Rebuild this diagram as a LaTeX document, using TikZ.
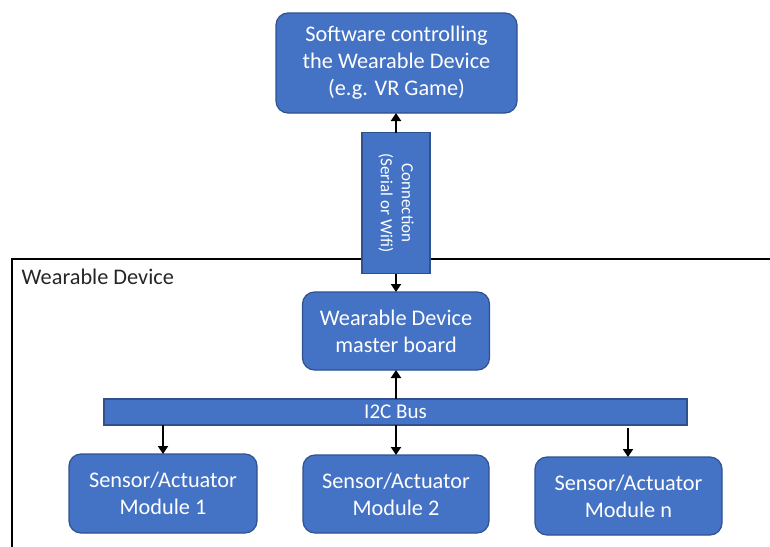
\documentclass[tikz,border=0pt]{standalone}
\usepackage{fontspec}
\setmainfont{Carlito}
\usetikzlibrary{arrows.meta}
\definecolor{boxfill}{HTML}{4472C4}
\definecolor{boxline}{HTML}{2F528F}
\tikzset{
  blk/.style={draw=boxline, fill=boxfill, line width=1.2pt, text=white, align=center,
    inner sep=0pt, outer sep=0pt, font=\fontsize{22.3}{27}\selectfont},
  rblk/.style={blk, rounded corners=12pt},
  arr/.style={line width=2.6pt, -{Triangle[length=8pt,width=10pt]}},
  frame/.style={draw=black, line width=1.1pt}
}
\begin{document}
\begin{tikzpicture}[x=1pt,y=-1pt]
\useasboundingbox (0,0) rectangle (770,546);
% frame
\draw[frame] (12,560) -- (12,259) -- (780,259) -- (780,560);
\node[anchor=base west, font=\fontsize{22.3}{27}\selectfont, inner sep=0pt, text=black!85] (framelabel) at (21.5,284) {Wearable Device};
% nodes
\node[rblk, minimum width=241pt, minimum height=100pt] (soft) at (396.5,63) {Software controlling\\the Wearable Device\\(e.g. VR Game)};
\node[blk, minimum width=68pt, minimum height=141pt] (conn) at (396,203) {};
\node[rotate=-90, text=white, align=center, font=\fontsize{17}{21}\selectfont, inner sep=0pt] (conntext) at (conn.center) {Connection\\(Serial or Wifi)};
\node[rblk, minimum width=187pt, minimum height=78pt] (master) at (396,331) {Wearable Device\\master board};
\node[blk, minimum width=583pt, minimum height=26pt, font=\fontsize{21}{25}\selectfont] (bus) at (395.5,412) {I2C Bus};
\node[rblk, minimum width=188pt, minimum height=79pt] (m1) at (163,493.5) {Sensor/Actuator\\Module 1};
\node[rblk, minimum width=186pt, minimum height=78pt] (m2) at (396,494) {Sensor/Actuator\\Module 2};
\node[rblk, minimum width=187pt, minimum height=78pt] (mn) at (628.5,496) {Sensor/Actuator\\Module n};
\coordinate (bn) at (628,428);
% connectors
\draw[arr] (conn.north) -- (soft.south -| conn.north);
\draw[arr] (conn.south) -- (master.north);
\draw[arr] (bus.north -| master.south) -- (master.south);
\draw[arr] (bus.south -| m1.north) -- (m1.north);
\draw[arr] (bus.south -| m2.north) -- (m2.north);
\draw[arr] (bn) -- (bn |- mn.north);
\end{tikzpicture}
\end{document}
